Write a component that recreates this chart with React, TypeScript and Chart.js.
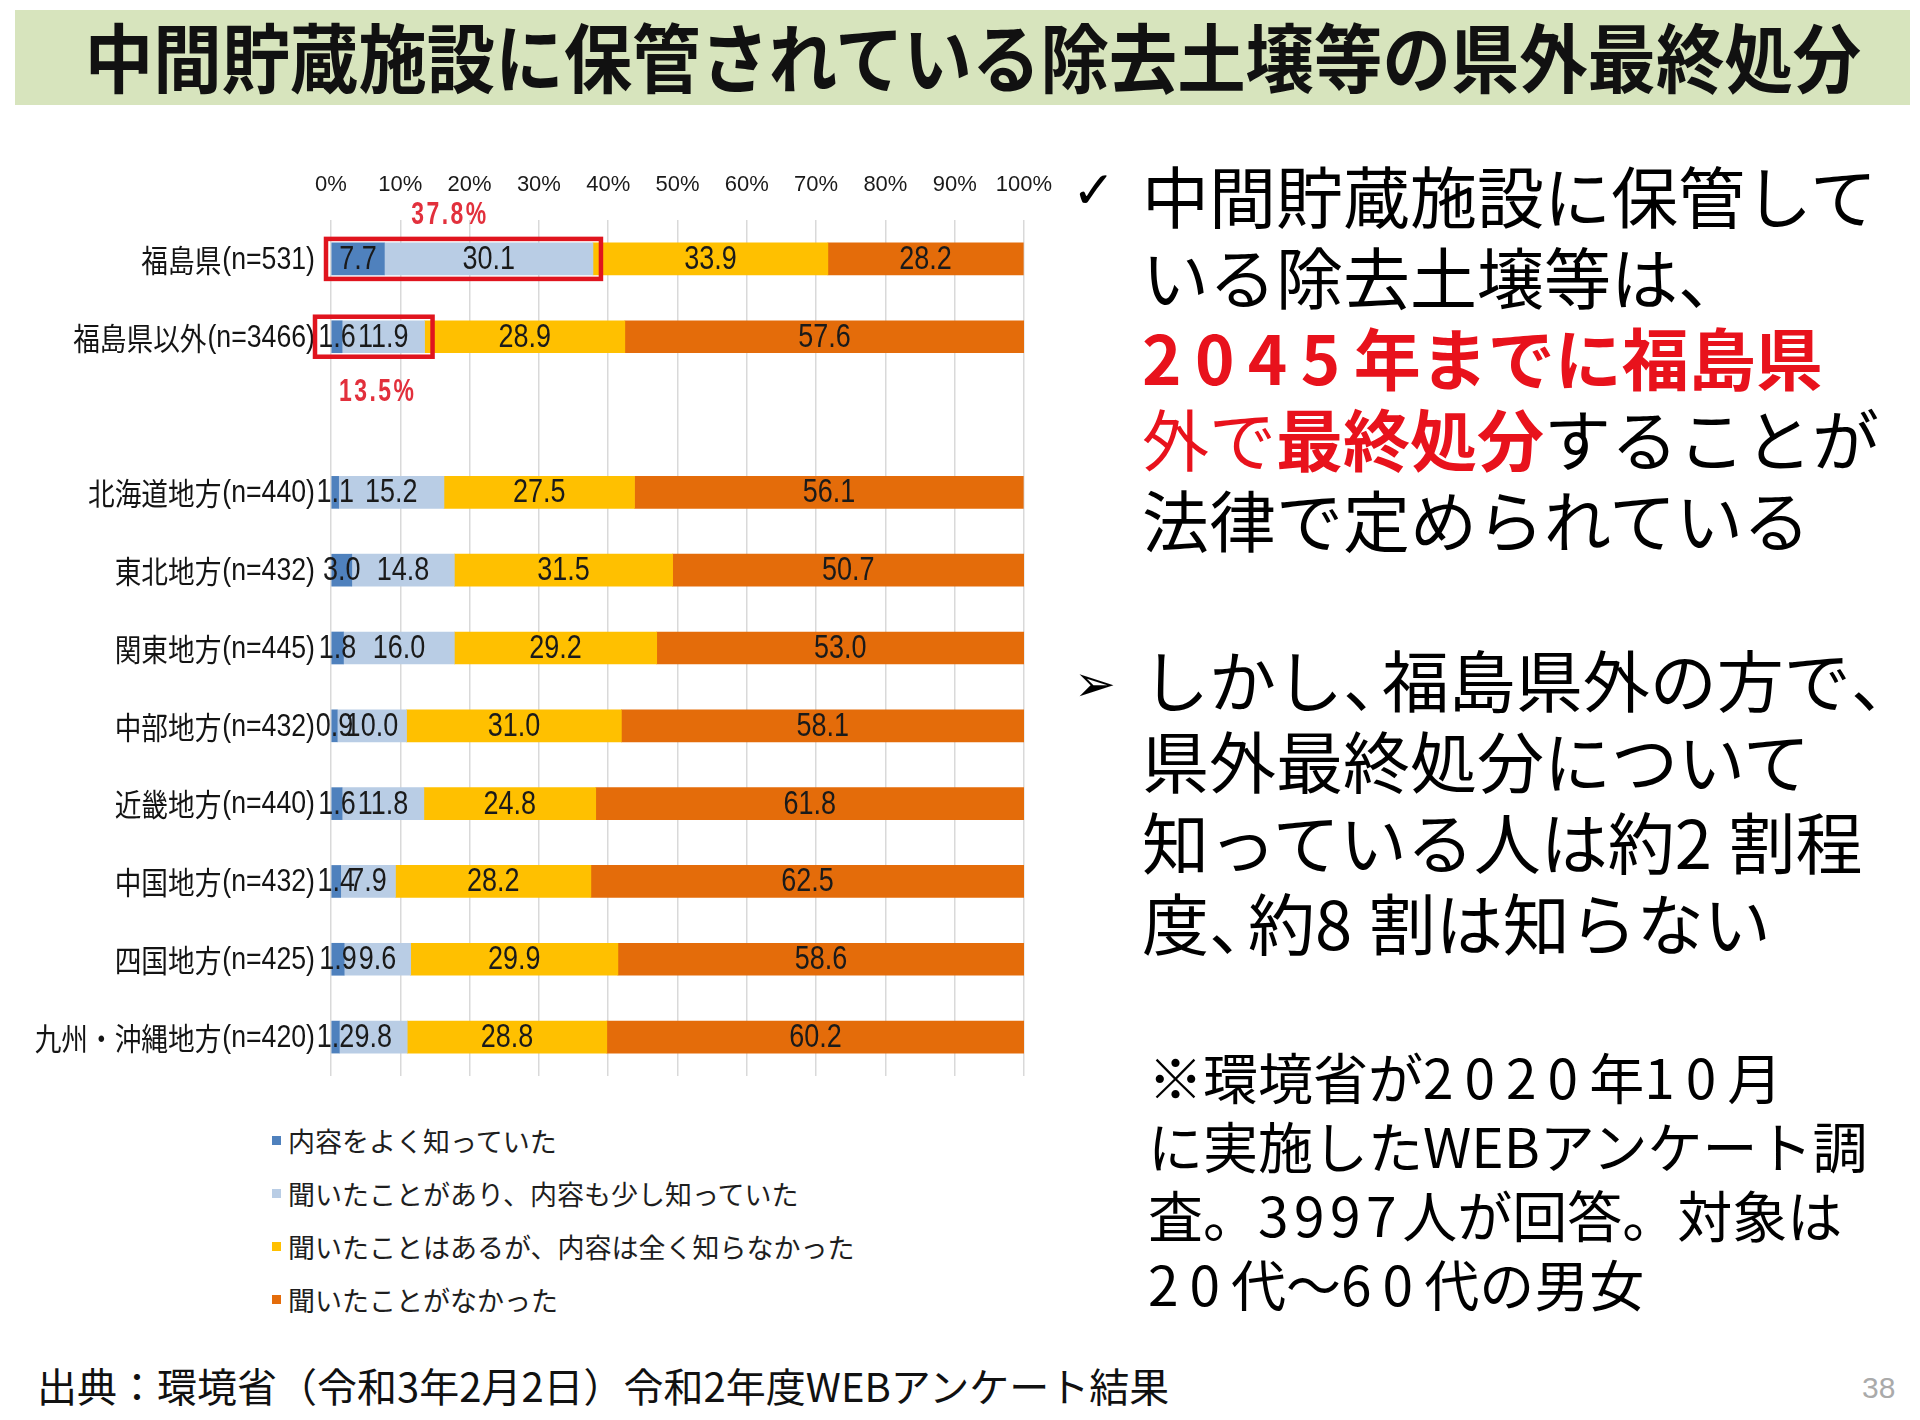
import React, { useEffect, useRef } from 'react';
import { Chart, registerables } from 'chart.js';

Chart.register(...registerables);

// ---------------- data ----------------
const categories = [
  '福島県(n=531)',
  '福島県以外(n=3466)',
  '',
  '北海道地方(n=440)',
  '東北地方(n=432)',
  '関東地方(n=445)',
  '中部地方(n=432)',
  '近畿地方(n=440)',
  '中国地方(n=432)',
  '四国地方(n=425)',
  '九州・沖縄地方(n=420)',
];
const seriesNames = [
  '内容をよく知っていた',
  '聞いたことがあり、内容も少し知っていた',
  '聞いたことはあるが、内容は全く知らなかった',
  '聞いたことがなかった',
];
const seriesColors = ['#4f81bd', '#b9cde5', '#ffc000', '#e46c0a'];
const knewWell = [7.7, 1.6, null, 1.1, 3.0, 1.8, 0.9, 1.6, 1.4, 1.9, 1.2];
const knewLittle = [30.1, 11.9, null, 15.2, 14.8, 16.0, 10.0, 11.8, 7.9, 9.6, 9.8];
const heardOnly = [33.9, 28.9, null, 27.5, 31.5, 29.2, 31.0, 24.8, 28.2, 29.9, 28.8];
const neverHeard = [28.2, 57.6, null, 56.1, 50.7, 53.0, 58.1, 61.8, 62.5, 58.6, 60.2];
const xTickValues = [0, 10, 20, 30, 40, 50, 60, 70, 80, 90, 100];
const highlightRows = [0, 1];

const seriesValues = [knewWell, knewLittle, heardOnly, neverHeard];

const JP = '"Noto Sans CJK JP", "Noto Sans", sans-serif';

const overlayPlugin = {
  id: 'overlay',
  afterDatasetsDraw(chart: any) {
    const ctx = chart.ctx;
    const xs = chart.scales.x;
    const ys = chart.scales.y;

    // value labels centred in each segment
    chart.data.datasets.forEach((ds: any, di: number) => {
      const meta = chart.getDatasetMeta(di);
      meta.data.forEach((bar: any, i: number) => {
        const v = ds.data[i];
        if (v === null || v === undefined) return;
        const p = bar.getProps(['x', 'base', 'y'], true);
        const cx = (p.x + p.base) / 2;
        ctx.save();
        ctx.translate(cx, p.y + 1);
        ctx.scale(0.9, 1.08);
        ctx.font = '30px "Liberation Sans", sans-serif';
        ctx.fillStyle = '#1a1a1a';
        ctx.textAlign = 'center';
        ctx.textBaseline = 'middle';
        ctx.fillText(Number(v).toFixed(1), 0, 0);
        ctx.restore();
      });
    });

    // category labels: condensed Japanese name + count in parentheses
    const labels = ys.getLabels();
    labels.forEach((lab: string, i: number) => {
      if (!lab) return;
      const y = ys.getPixelForValue(i);
      const cut = lab.indexOf('(');
      const name = cut >= 0 ? lab.slice(0, cut) : lab;
      const count = cut >= 0 ? lab.slice(cut) : '';
      const right = xs.left - 16;
      ctx.save();
      ctx.fillStyle = '#141414';
      ctx.textBaseline = 'middle';
      ctx.textAlign = 'right';
      ctx.font = '29px "Liberation Sans", sans-serif';
      ctx.translate(right, y + 1);
      ctx.scale(0.92, 1.1);
      ctx.fillText(count, 0, 0);
      const w = ctx.measureText(count).width * 0.92;
      ctx.restore();
      ctx.save();
      ctx.fillStyle = '#141414';
      ctx.textBaseline = 'middle';
      ctx.textAlign = 'right';
      ctx.font = '31px ' + JP;
      ctx.translate(right - w - 1, y + 1);
      ctx.scale(0.86, 1);
      ctx.fillText(name, 0, 0);
      ctx.restore();
    });

    // red highlight boxes with totals
    highlightRows.forEach((row, k) => {
      const total = Math.round(((knewWell[row] as number) + (knewLittle[row] as number)) * 10) / 10;
      const y = ys.getPixelForValue(row);
      const x0 = xs.getPixelForValue(0);
      const x1 = xs.getPixelForValue(total);
      const padL = k === 0 ? 5 : 16;
      ctx.save();
      ctx.strokeStyle = '#e0141e';
      ctx.lineWidth = 4.5;
      ctx.strokeRect(x0 - padL, y - 20, x1 - x0 + padL + 8, 40);
      const ly = k === 0 ? y - 43 : y + 56;
      const lx = (x0 + x1) / 2 - (k === 0 ? 12 : 0);
      ctx.translate(lx, ly);
      ctx.scale(0.82, 1.1);
      ctx.font = 'bold 28px "Liberation Sans", sans-serif';
      (ctx as any).letterSpacing = '3px';
      ctx.fillStyle = '#e2303c';
      ctx.textAlign = 'center';
      ctx.textBaseline = 'middle';
      ctx.fillText(total.toFixed(1) + '%', 0, 0);
      ctx.restore();
    });
  },
};

function BarChart() {
  const ref = useRef<HTMLCanvasElement | null>(null);
  useEffect(() => {
    if (!ref.current) return;
    const chart = new Chart(ref.current, {
      type: 'bar',
      data: {
        labels: categories,
        datasets: seriesNames.map((name, i) => ({
          label: name,
          data: seriesValues[i] as any,
          backgroundColor: seriesColors[i],
          borderWidth: 0,
          barThickness: 32,
        })),
      },
      options: {
        indexAxis: 'y',
        responsive: false,
        animation: false,
        devicePixelRatio: 1,
        layout: { padding: { left: 0, right: 36, top: 0, bottom: 24 } },
        plugins: {
          legend: { display: false },
          tooltip: { enabled: false },
        },
        scales: {
          x: {
            position: 'top',
            stacked: true,
            min: 0,
            max: 100,
            afterBuildTicks: (scale: any) => {
              scale.ticks = xTickValues.map((v) => ({ value: v }));
            },
            afterFit: (scale: any) => {
              scale.height = 70;
              scale.paddingLeft = 0;
              scale.paddingRight = 0;
            },
            border: { display: false },
            grid: { color: '#d9d9d9', lineWidth: 1.5, drawTicks: false },
            ticks: {
              padding: 22,
              color: '#1a1a1a',
              font: { family: '"Liberation Sans Narrow", "Liberation Sans", sans-serif', size: 22 },
              callback: (v: any) => v + '%',
            },
          },
          y: {
            stacked: true,
            afterFit: (scale: any) => {
              scale.width = 331;
            },
            border: { display: false },
            grid: { display: false },
            ticks: { display: false },
          },
        },
      } as any,
      plugins: [overlayPlugin],
    });
    return () => chart.destroy();
  }, []);
  return (
    <canvas
      ref={ref}
      width={1060}
      height={950}
      style={{ position: 'absolute', left: 0, top: 150, width: 1060, height: 950 }}
    />
  );
}

// widen digit runs (the original font has broad numerals)
function wideDigits(text: string, em: number) {
  const parts = text.split(/(\d+)/);
  return parts.map((p, i) =>
    /^\d+$/.test(p) ? (
      <span key={i} style={{ letterSpacing: em + 'em' }}>
        {p}
      </span>
    ) : (
      <React.Fragment key={i}>{p}</React.Fragment>
    )
  );
}

const lineStyle: React.CSSProperties = { whiteSpace: 'nowrap', height: 81 };
const red = '#e8121c';
const narrowComma: React.CSSProperties = { letterSpacing: '-0.42em' };

export default function App() {
  useEffect(() => {
    document.body.style.margin = '0';
  }, []);
  return (
    <div
      style={{
        position: 'relative',
        width: 1920,
        height: 1420,
        background: '#ffffff',
        overflow: 'hidden',
        fontFamily: JP,
        color: '#000',
      }}
    >
      {/* title band */}
      <div style={{ position: 'absolute', left: 15, top: 10, width: 1895, height: 95, background: '#d7e4bd' }} />
      <div
        style={{
          position: 'absolute',
          left: 0,
          top: 9,
          width: 1928,
          textAlign: 'center',
          fontSize: 75,
          lineHeight: '92px',
          fontWeight: 700,
          whiteSpace: 'nowrap',
          color: '#111',
          transform: 'scaleX(0.912)',
          transformOrigin: '50% 50%',
        }}
      >
        中間貯蔵施設に保管されている除去土壌等の県外最終処分
      </div>

      <BarChart />

      {/* legend */}
      <div style={{ position: 'absolute', left: 272, top: 1114, fontSize: 27, lineHeight: '53px', color: '#1e1e1e' }}>
        {seriesNames.map((n, i) => (
          <div key={i} style={{ display: 'flex', alignItems: 'center', whiteSpace: 'nowrap' }}>
            <span style={{ display: 'inline-block', width: 9, height: 9, background: seriesColors[i], marginRight: 7 }} />
            {n}
          </div>
        ))}
      </div>

      {/* right text panel */}
      <div style={{ position: 'absolute', left: 1072, top: 160, fontSize: 52, lineHeight: '60px', fontFamily: '"DejaVu Sans", sans-serif' }}>✓</div>
      <div style={{ position: 'absolute', left: 1142, top: 153, fontSize: 67, lineHeight: '81px' }}>
        <div style={lineStyle}>中間貯蔵施設に保管して</div>
        <div style={lineStyle}>いる除去土壌等は、</div>
        <div style={{ ...lineStyle, color: red, fontWeight: 700 }}>{wideDigits('2045年までに福島県', 0.2)}</div>
        <div style={lineStyle}>
          <span style={{ color: red }}>外で</span>
          <span style={{ color: red, fontWeight: 700 }}>最終処分</span>
          することが
        </div>
        <div style={lineStyle}>法律で定められている</div>
      </div>

      <div style={{ position: 'absolute', left: 1074, top: 654, fontSize: 50, lineHeight: '60px', fontFamily: '"DejaVu Sans", sans-serif' }}>➢</div>
      <div style={{ position: 'absolute', left: 1142, top: 637, fontSize: 67, lineHeight: '81px' }}>
        <div style={lineStyle}>
          しかし<span style={narrowComma}>、</span>福島県外の方で<span style={narrowComma}>、</span>
        </div>
        <div style={lineStyle}>県外最終処分について</div>
        <div style={lineStyle}>{wideDigits('知っている人は約2割程', 0.25)}</div>
        <div style={lineStyle}>
          度<span style={narrowComma}>、</span>
          {wideDigits('約8割は知らない', 0.25)}
        </div>
      </div>

      <div style={{ position: 'absolute', left: 1148, top: 1041, fontSize: 55, lineHeight: '69px' }}>
        <div style={{ whiteSpace: 'nowrap' }}>{wideDigits('※環境省が2020年10月', 0.2)}</div>
        <div style={{ whiteSpace: 'nowrap' }}>に実施したWEBアンケート調</div>
        <div style={{ whiteSpace: 'nowrap' }}>{wideDigits('査。3997人が回答。対象は', 0.1)}</div>
        <div style={{ whiteSpace: 'nowrap' }}>{wideDigits('20代～60代の男女', 0.2)}</div>
      </div>

      {/* footer */}
      <div style={{ position: 'absolute', left: 37, top: 1360, fontSize: 40, lineHeight: '50px', whiteSpace: 'nowrap', color: '#111' }}>
        出典：環境省（令和3年2月2日）令和2年度WEBアンケート結果
      </div>
      <div
        style={{
          position: 'absolute',
          left: 1862,
          top: 1368,
          fontSize: 30,
          lineHeight: '40px',
          color: '#aaaaaa',
          fontFamily: '"Liberation Sans Narrow", "Liberation Sans", sans-serif',
        }}
      >
        38
      </div>
    </div>
  );
}
